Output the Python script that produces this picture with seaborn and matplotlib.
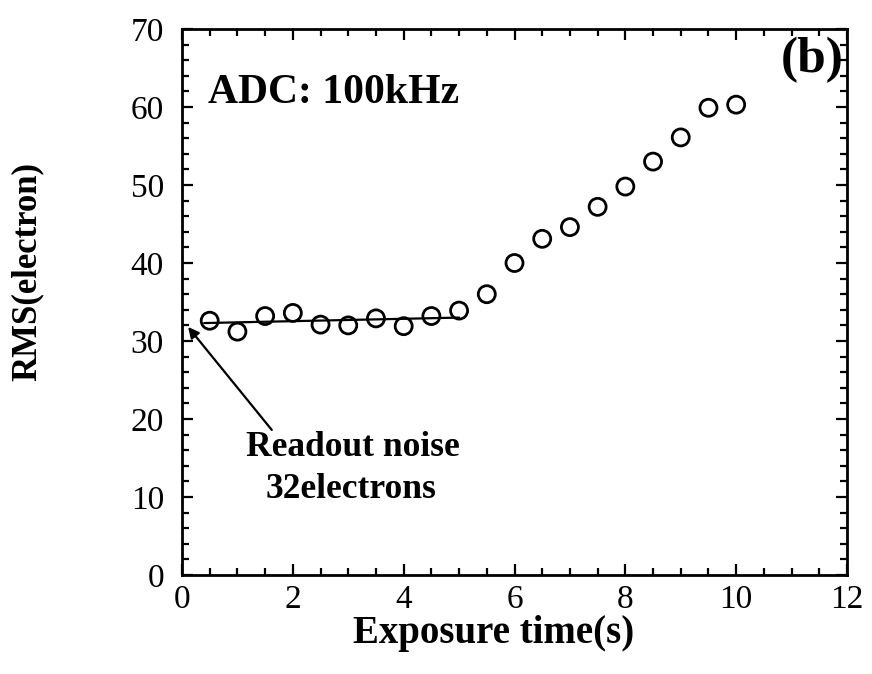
import numpy as np
import pandas as pd
import matplotlib
matplotlib.use("Agg")
import matplotlib.pyplot as plt
from matplotlib.ticker import MultipleLocator
import seaborn as sns

# ---- data ----
exposure_time = [0.5, 1.0, 1.5, 2.0, 2.5, 3.0, 3.5, 4.0, 4.5, 5.0,
                 5.5, 6.0, 6.5, 7.0, 7.5, 8.0, 8.5, 9.0, 9.5, 10.0]
rms_electron = [32.6, 31.2, 33.2, 33.6, 32.1, 32.0, 32.9, 31.9, 33.2, 33.9,
                36.0, 40.0, 43.1, 44.6, 47.2, 49.8, 53.0, 56.1, 59.9, 60.3]
fit_x = [0.4, 5.0]
fit_y = [32.3, 33.0]
x_ticks = [0, 2, 4, 6, 8, 10, 12]
y_ticks = [0, 10, 20, 30, 40, 50, 60, 70]

df = pd.DataFrame({"t": exposure_time, "rms": rms_electron})
fit = pd.DataFrame({"t": fit_x, "rms": fit_y})

sns.set_theme(style="ticks")
plt.rcParams["font.family"] = ["Liberation Serif", "DejaVu Serif"]

fig = plt.figure(figsize=(8.72, 6.74), dpi=100)
ax = fig.add_axes([182/872, 1-575/674, (847-182)/872, (575-29)/674])

sns.lineplot(data=fit, x="t", y="rms", ax=ax, color="black", linewidth=1.6,
             estimator=None, sort=False)
sns.scatterplot(data=df, x="t", y="rms", ax=ax, marker="o", s=150,
                facecolor="none", edgecolor="black", linewidth=2.0, zorder=3)

ax.set_xlim(0, 12)
ax.set_ylim(0, 70)
ax.set_xticks(x_ticks)
ax.set_yticks(y_ticks)
ax.xaxis.set_minor_locator(MultipleLocator(0.5))
ax.yaxis.set_minor_locator(MultipleLocator(2))
ax.tick_params(which="both", direction="in", top=True, right=True,
               width=1.6, color="black")
ax.tick_params(which="major", length=8, labelsize=24)
ax.tick_params(which="minor", length=5)
ax.tick_params(axis="x", which="major", pad=7)
ax.tick_params(axis="y", which="major", pad=13)
for lab in ax.get_xticklabels() + ax.get_yticklabels():
    lab.set_color("black")
for sp in ax.spines.values():
    sp.set_linewidth(2.0)
    sp.set_color("black")

ax.set_xlabel("Exposure time(s)", fontsize=28, fontweight="bold", color="black")
ax.set_ylabel("RMS(electron)", fontsize=25, fontweight="bold", color="black")
ax.xaxis.set_label_coords(0.468, -0.108)
ax.yaxis.set_label_coords(-0.233, 0.555)
ax.xaxis.label.set_va("center")
ax.yaxis.label.set_va("center")

ax.text(0.039, 0.882, "ADC: 100kHz", transform=ax.transAxes, fontsize=30,
        fontweight="bold", ha="left", va="center", color="black")
ax.text(0.995, 0.985, "(b)", transform=ax.transAxes, fontsize=37,
        fontweight="bold", ha="right", va="top", color="black")

ax.annotate("", xy=(0.11, 31.8), xytext=(1.62, 18.6),
            arrowprops=dict(arrowstyle="-|>", color="black", lw=1.6,
                            mutation_scale=16, shrinkA=0, shrinkB=0))
ax.text(3.09, 16.4, "Readout noise", fontsize=25.5, fontweight="bold",
        ha="center", va="center", color="black")
ax.text(3.05, 10.9, "32electrons", fontsize=25.5, fontweight="bold",
        ha="center", va="center", color="black")

fig.savefig("out.png", dpi=100)
